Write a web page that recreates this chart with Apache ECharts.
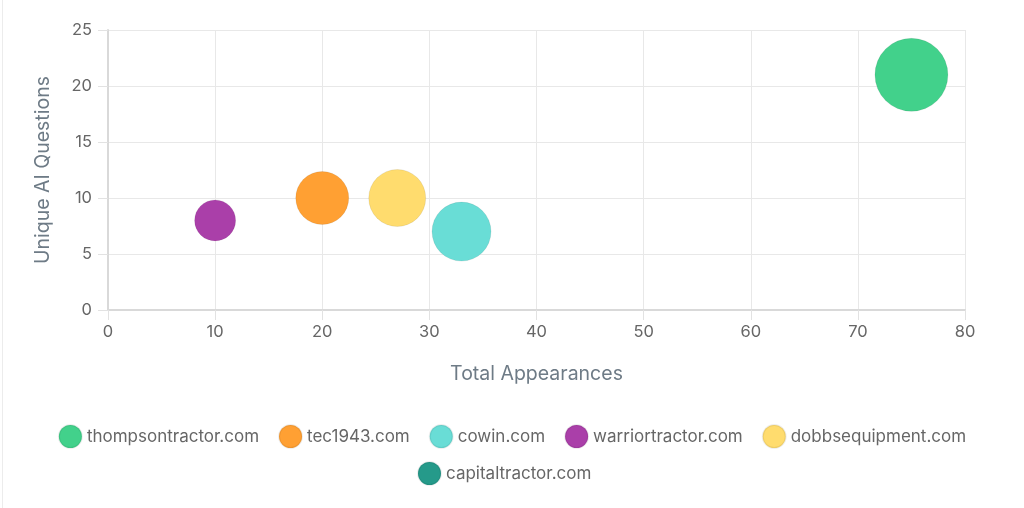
<!DOCTYPE html>
<html>
<head>
<meta charset="utf-8">
<script src="https://cdn.jsdelivr.net/npm/echarts@6/dist/echarts.min.js"></script>
<style>
html,body{margin:0;padding:0;background:#fff;}
#chart{width:1024px;height:508px;position:relative;}
#edge{position:absolute;left:2px;top:0;width:1px;height:508px;background:#ececec;z-index:5;}
</style>
</head>
<body>
<div id="edge"></div>
<div id="chart"></div>
<script>
const domains = ['thompsontractor.com','tec1943.com','cowin.com','warriortractor.com','dobbsequipment.com','capitaltractor.com'];
const totalAppearances = [75, 20, 33, 10, 27, null];
const uniqueQuestions = [21, 10, 7, 8, 10, null];
const bubbleRadius = [36, 26, 29, 20, 28, null];
const colors = ['#42d18b','#ffa033','#69ddd6','#aa3fa9','#ffdc6e','#259a8a'];
const xTicks = {min:0, max:80, interval:10};
const yTicks = {min:0, max:25, interval:5};

const series = domains.map((name, i) => ({
  name: name,
  type: 'scatter',
  data: totalAppearances[i] == null ? [] : [[totalAppearances[i], uniqueQuestions[i], bubbleRadius[i]]],
  symbolSize: v => v[2] * 2 + 1,
  itemStyle: { color: colors[i], borderColor: 'rgba(0,0,0,0.07)', borderWidth: 1, opacity: 1 },
  emphasis: { disabled: true }
}));

const legendBase = {
  icon: 'circle',
  itemWidth: 23,
  itemHeight: 23,
  itemGap: 19,
  textStyle: { color: '#666', fontSize: 17, fontFamily: 'Inter' }
};

const chart = echarts.init(document.getElementById('chart'));
chart.setOption({
  animation: false,
  textStyle: { fontFamily: 'Inter, sans-serif' },
  color: colors,
  grid: { left: 108, right: 59, top: 30, bottom: 198, containLabel: false },
  xAxis: {
    type: 'value', min: xTicks.min, max: xTicks.max, interval: xTicks.interval,
    name: 'Total Appearances', nameLocation: 'middle', nameGap: 54,
    nameTextStyle: { color: '#6e7b86', fontSize: 19.5, fontFamily: 'Inter' },
    axisLine: { show: true, lineStyle: { color: '#d9d9d9', width: 2 } },
    axisTick: { show: true, length: 10, lineStyle: { color: '#e2e2e2' } },
    axisLabel: { color: '#666', fontSize: 16.5, margin: 14, fontFamily: 'Inter' },
    splitLine: { show: true, lineStyle: { color: '#e8e8e8', width: 1 } }
  },
  yAxis: {
    type: 'value', min: yTicks.min, max: yTicks.max, interval: yTicks.interval,
    name: 'Unique AI Questions', nameLocation: 'middle', nameGap: 55,
    nameTextStyle: { color: '#6e7b86', fontSize: 19.5, fontFamily: 'Inter' },
    axisLine: { show: true, lineStyle: { color: '#d9d9d9', width: 2 } },
    axisTick: { show: true, length: 10, lineStyle: { color: '#e2e2e2' } },
    axisLabel: { color: '#666', fontSize: 16.5, margin: 16, fontFamily: 'Inter' },
    splitLine: { show: true, lineStyle: { color: '#e8e8e8', width: 1 } }
  },
  legend: [
    Object.assign({}, legendBase, { data: domains.slice(0, 5), top: 419, left: 'center' }),
    Object.assign({}, legendBase, { data: domains.slice(5), top: 456, left: 412 })
  ],
  series: series
});
</script>
</body>
</html>
